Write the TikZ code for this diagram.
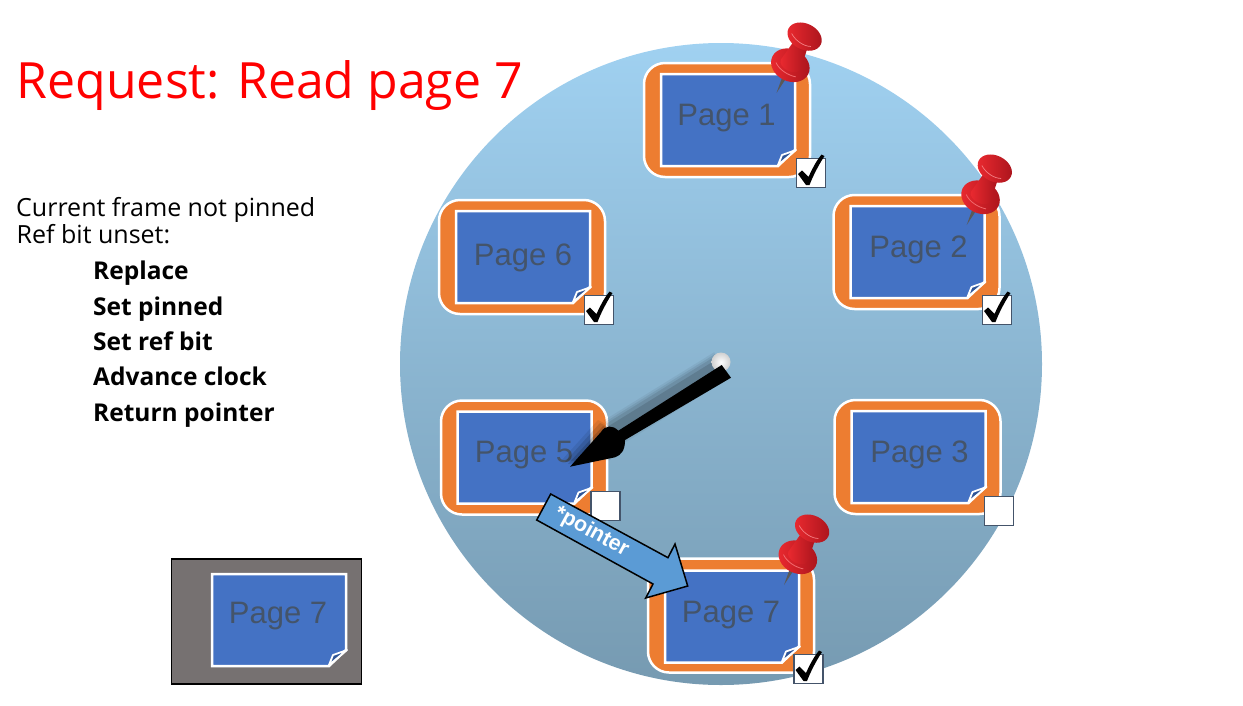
\documentclass[tikz,border=0pt]{standalone}
\usepackage{fontspec}
\usepackage{tikz}
\usetikzlibrary{calc}
\setmainfont{Open Sans}
\newfontfamily\pagefont{Liberation Sans}

\definecolor{discTop}{HTML}{A0D1F1}
\definecolor{discBottom}{HTML}{769AB1}
\definecolor{frameOrange}{HTML}{ED7D31}
\definecolor{sheetBlue}{HTML}{4472C4}
\definecolor{foldBlue}{HTML}{2F5597}
\definecolor{labelSlate}{HTML}{44546A}
\definecolor{trayGray}{HTML}{767171}
\definecolor{tagBlue}{HTML}{5B9BD5}
\definecolor{pinRed}{HTML}{DC1F28}
\definecolor{pinDark}{HTML}{A9141C}
\definecolor{pinLight}{HTML}{EC2A30}

\tikzset{
    pageframe/.style={draw=white, line width=2.5pt, fill=frameOrange, rounded corners=21pt, minimum width=166pt, minimum height=114pt, inner sep=0pt},
    pagelabel/.style={text=labelSlate, font=\pagefont\fontsize{31}{36}\selectfont, inner sep=0pt},
    tickbox/.style={draw=labelSlate, line width=1.8pt, fill=white, minimum size=29pt, inner sep=0pt},
    bodytext/.style={anchor=base west, inner sep=0pt, font=\fontsize{25}{30}\selectfont},
    steptext/.style={anchor=base west, inner sep=0pt, font=\bfseries\fontsize{24.5}{30}\selectfont},
    sheet/.pic={
        \draw[white, line width=2.5pt, fill=sheetBlue, line join=miter] (-67,-46)--(67,-46)--(67,30)--(50,46)--(-67,46)--cycle;
        \draw[white, line width=1.8pt, fill=foldBlue, line join=round] (50,45)--(54,35)--(68,30)--cycle;
    },
    tick/.pic={
        \fill[black] (-13,1)--(-9,-2.5)--(-2.5,4) .. controls (2,-6) and (6,-13) .. (10.5,-18.5)--(13.5,-17) .. controls (7,-7) and (2,3) .. (-1.5,12)--(-5,12)--cycle;
    },
    redpin/.pic={
        \fill[gray!70!black] (0,0)--(-2,-17)--(2,-17)--cycle;
        \shade[left color=pinLight, right color=pinDark] (0,-31) ellipse [x radius=20, y radius=16];
        \shade[left color=pinLight, right color=pinDark] (-11,-32)--(-7,-58)--(7,-58)--(11,-32) arc [start angle=0, end angle=-180, x radius=11, y radius=-7];
        \draw[pinLight!70!white, line width=0.8pt] (-14,-27) .. controls (-8,-22) and (2,-21) .. (10,-23);
        \shade[left color=pinLight, right color=pinDark] (0,-63) ellipse [x radius=18, y radius=13];
        \draw[pinLight!60!white, line width=0.7pt] (-13,-60) .. controls (-6,-55) and (4,-54) .. (10,-57);
    }
}

\begin{document}
\begin{tikzpicture}[x=1pt, y=-1pt]
            \useasboundingbox (0,0) rectangle (1243,705);

            \coordinate (f1) at (727,120);
            \coordinate (f2) at (916.5,252);
            \coordinate (f3) at (917.5,457);
            \coordinate (f5) at (524,457.5);
            \coordinate (f6) at (522,257);
            \coordinate (f7) at (731,615.5);

            \coordinate (hub) at (721,362);
            \coordinate (handtip) at (570,466.7);

            % clock face
            \shade[top color=discTop, bottom color=discBottom] (721,364) circle (321);

            \node (title) [anchor=base west, inner sep=0pt, text=red, font=\fontsize{50}{60}\selectfont] at (16.5,98) {Request: Read page 7};
            \node (why1) [bodytext] at (16,216) {Current frame not pinned};
            \node (why2) [bodytext] at (16.5,243) {Ref bit unset:};
            \node (act1) [steptext] at (93,279) {Replace};
            \node (act2) [steptext] at (93,315) {Set pinned};
            \node (act3) [steptext] at (93,350) {Set ref bit};
            \node (act4) [steptext] at (93,385) {Advance clock};
            \node (act5) [steptext] at (93,421) {Return pointer};

            % frames
            \node (frame1) [pageframe] at (f1) {};
            \node (frame2) [pageframe] at (f2) {};
            \node (frame3) [pageframe] at (f3) {};
            \node (frame5) [pageframe] at (f5) {};
            \node (frame6) [pageframe] at (f6) {};
            \node (frame7) [pageframe] at (f7) {};

            \pic at ($(f1)+(1,0)$) {sheet};
            \pic at ($(f2)+(1,0)$) {sheet};
            \pic at ($(f3)+(1,0)$) {sheet};
            \pic at ($(f5)+(0.5,0)$) {sheet};
            \pic at ($(f6)+(1,0)$) {sheet};
            \pic at ($(f7)+(1,1)$) {sheet};

            \node (label1) [pagelabel] at (726.5,118) {Page 1};
            \node (label2) [pagelabel] at (918.5,250) {Page 2};
            \node (label3) [pagelabel] at (919.5,455) {Page 3};
            \node (label5) [pagelabel] at (524,455) {Page 5};
            \node (label6) [pagelabel] at (523,257.5) {Page 6};
            \node (label7) [pagelabel] at (731,615) {Page 7};

            \node (box1) [tickbox] at (811,173) {};
            \pic at (box1) {tick};
            \node (box2) [tickbox] at (997,310) {};
            \pic at (box2) {tick};
            \node (box3) [tickbox] at (999,511) {};
            \node (box5) [tickbox] at (605.7,506) {};
            \node (box6) [tickbox] at (599,310) {};
            \pic at (box6) {tick};
            \node (box7) [tickbox] at (808.5,669) {};
            \pic at (box7) {tick};

            % incoming page
            \node (tray) [draw=black, line width=1.5pt, fill=trayGray, minimum width=190pt, minimum height=125pt, inner sep=0pt] at (266.3,621.5) {};
            \pic at (279,620) {sheet};
            \node (label8) [pagelabel] at (278,616) {Page 7};

            % hand
            \draw[black, opacity=0.05, line width=30pt] (722,365)--(612,433);
            \draw[black, opacity=0.07, line width=26pt] (722,365)--(612,433);
            \draw[black, opacity=0.09, line width=22pt] (722,365)--(612,433);
            \draw[black, opacity=0.12, line width=18pt] (723,366)--(613,434);
            \fill[black, opacity=0.08] (598,420)--(562,460)--(610,460)--(630,436)--cycle;
            \fill[black, opacity=0.12] (600,423)--(565,462)--(612,457)--(627,436)--cycle;
            \fill[black, opacity=0.15] (603,426)--(568,464)--(614,457)--(625,438)--cycle;
            \shade[shading=radial, inner color=white, outer color=black!18] (hub) circle (9.5);
            \fill[black] (721.7,365)--(618.3,430.7) .. controls (613,425) and (605,425) .. (601,432)
                --(handtip)--(615,457.3) .. controls (621,455) and (625,451) .. (625,440)--(731,377.7)--cycle;

            % pointer
            \draw[black, line width=1.5pt, fill=tagBlue, line join=miter] (550.7,494)--(668,557.7)--(675,544)--(687.7,586)--(645.7,598)--(653,584)--(536.7,520)--cycle;
            \node (tag) [rotate=-28.5, inner sep=0pt, text=white, font=\pagefont\bfseries\fontsize{21.5}{24}\selectfont] at (591.5,532) {*pointer};

            \pic[rotate=-26.5] at (776.5,93) {redpin};
            \pic[rotate=-26.5] at (966.7,225) {redpin};
            \pic[rotate=-26.5] at (784,585) {redpin};
        \end{tikzpicture}
\end{document}
